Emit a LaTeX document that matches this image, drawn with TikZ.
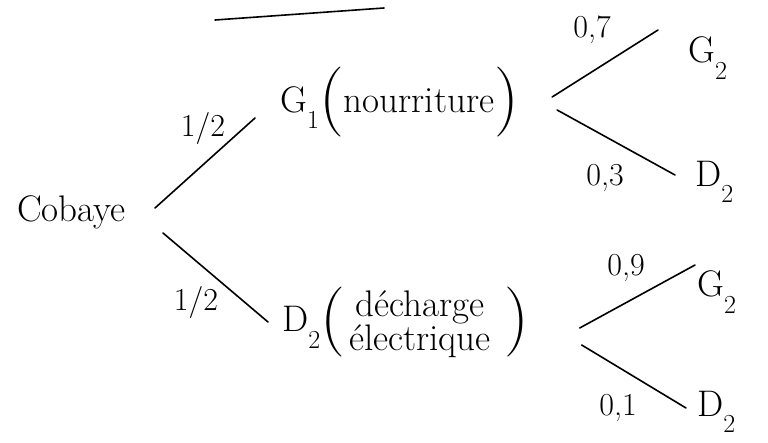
\documentclass[tikz,border=0pt]{standalone}
\usetikzlibrary{positioning}
\tikzset{
	>=latex,
}
\newcommand\sub[1]{\raisebox{-0.45em}{\fontsize{26}{26}\selectfont #1}}
\newcommand\bigp[2]{\raisebox{#2}{\fontsize{70}{70}\selectfont #1}}
\begin{document}
\begin{tikzpicture}[
		x=1pt, y=-1pt,
		word/.style={font=\fontsize{37}{40}\selectfont, inner sep=0pt},
		prob/.style={font=\fontsize{32}{34}\selectfont, inner sep=0pt},
		branch/.style={line width=1.6pt, line cap=round},
	]
	\useasboundingbox (0,0) rectangle (768,442);
	\draw
		node(cob)[word,anchor=east] at (126,212) {Cobaye}
		node(g1)[word,anchor=west] at (280,102) {G\sub{1}\bigp{(}{-0.2em}nourriture\bigp{)}{-0.2em}}
		node(d1)[word,anchor=west] at (282,325) {D\sub{2}\bigp{(}{-0.22em}\hspace{4pt}\begin{tabular}{@{}c@{}}décharge\\[-6pt]électrique\end{tabular}\hspace{14pt}\bigp{)}{-0.22em}}
		node(g2a)[word,anchor=west] at (688,58) {G\sub{2}}
		node(d2a)[word,anchor=west] at (695,182) {D\sub{2}}
		node(g2b)[word,anchor=west] at (697,292) {G\sub{2}}
		node(d2b)[word,anchor=west] at (697,412) {D\sub{2}}
	;
	% probabilities
	\node(pg1)[prob] at (203,128) {1/2};
	\node(pd1)[prob] at (196,302) {1/2};
	\node(pg2a)[prob] at (592,30) {0,7};
	\node(pd2a)[prob] at (605,178) {0,3};
	\node(pg2b)[prob] at (626,268) {0,9};
	\node(pd2b)[prob] at (618,408) {0,1};
	% branches
	\draw[branch] ([shift={(29,-4)}]cob.east) -- ([shift={(-25,16)}]g1.west);
	\draw[branch] ([shift={(37,21)}]cob.east) -- ([shift={(-14,-3)}]d1.west);
	\draw[branch] ([shift={(33,-5)}]g1.east) -- ([shift={(-30,-28)}]g2a.west);
	\draw[branch] ([shift={(38,8)}]g1.east) -- ([shift={(-20,-7)}]d2a.west);
	\draw[branch] ([shift={(50,3)}]d1.east) -- ([shift={(-2,-27)}]g2b.west);
	\draw[branch] ([shift={(52,20)}]d1.east) -- ([shift={(-11,-4)}]d2b.west);
	% stray stroke at the top
	\coordinate (s1) at (215,20);
	\coordinate (s2) at (384,8);
	\draw[branch] (s2) -- (s1);
\end{tikzpicture}
\end{document}
